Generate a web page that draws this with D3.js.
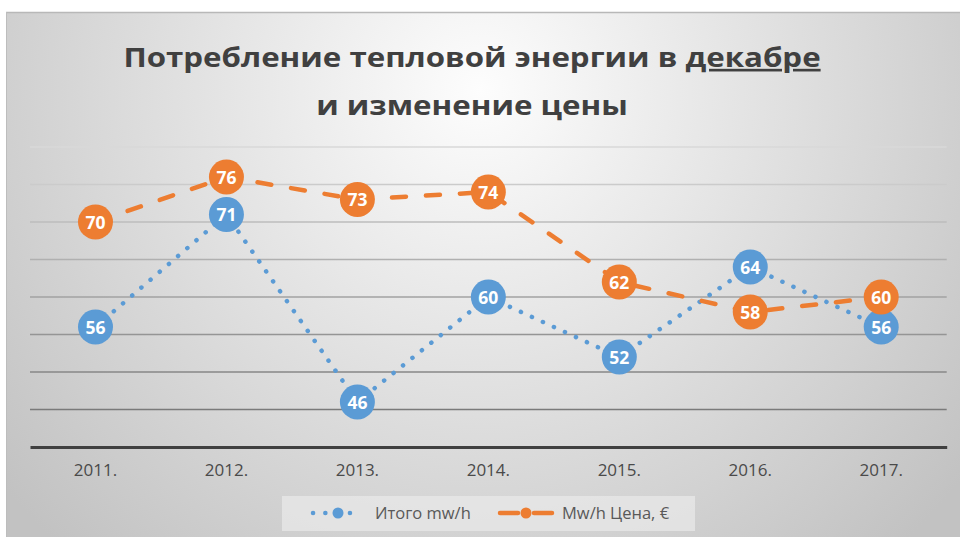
<!DOCTYPE html>
<html>
<head>
<meta charset="utf-8">
<script src="https://cdn.jsdelivr.net/npm/d3@7"></script>
<style>
  body { margin: 0; background: #fff; }
  svg { display: block; }
  text { font-family: "Open Sans", sans-serif; }
</style>
</head>
<body>
<svg id="chart" width="960" height="537"></svg>
<script>
var years = ["2011.", "2012.", "2013.", "2014.", "2015.", "2016.", "2017."];
var totalMwh = [56, 71, 46, 60, 52, 64, 56];
var priceMwh = [70, 76, 73, 74, 62, 58, 60];
var yTicks = [40, 45, 50, 55, 60, 65, 70, 75, 80];
var seriesNames = ["Итого mw/h", "Mw/h Цена, €"];

var blue = "#5b9bd5", orange = "#ed7d31";

var svg = d3.select("#chart");
var defs = svg.append("defs");

var bg = defs.append("radialGradient")
    .attr("id", "bg")
    .attr("gradientUnits", "userSpaceOnUse")
    .attr("cx", 480).attr("cy", 90).attr("r", 620);
bg.append("stop").attr("offset", "0%").attr("stop-color", "#fdfdfd");
bg.append("stop").attr("offset", "100%").attr("stop-color", "#c2c2c2");

// panel
svg.append("rect")
    .attr("x", 6).attr("y", 12)
    .attr("width", 954).attr("height", 525)
    .attr("fill", "url(#bg)");
svg.append("line")
    .attr("x1", 6).attr("x2", 960).attr("y1", 12.5).attr("y2", 12.5)
    .attr("stroke", "#b8b8b8").attr("stroke-width", 1.5);
svg.append("line")
    .attr("x1", 6.5).attr("x2", 6.5).attr("y1", 12).attr("y2", 537)
    .attr("stroke", "#bdbdbd").attr("stroke-width", 1);

// title (stretched horizontally like the original)
var title = svg.append("text")
    .attr("transform", "translate(472,0) scale(1.18,1)")
    .attr("text-anchor", "middle")
    .attr("fill", "#404040")
    .style("font-size", "26.5px")
    .style("font-weight", "bold");
title.append("tspan").attr("x", 0).attr("y", 67)
    .text("Потребление тепловой энергии в ");
title.append("tspan").text("декабре")
    .style("text-decoration", "underline");
title.append("tspan").attr("x", 0).attr("y", 115)
    .text("и изменение цены");

// scales
var x = d3.scaleBand().domain(years).range([30, 946.7]);
var y = d3.scaleLinear().domain([40, 80]).range([447, 147]);
var cx = function (d, i) { return x(years[i]) + x.bandwidth() / 2; };

var gridColor = d3.scaleLinear().domain([80, 45])
    .range(["#d8d8d8", "#7a7a7a"]);

svg.append("g").selectAll("line")
    .data(yTicks.filter(function (t) { return t > 40; }))
    .enter().append("line")
    .attr("x1", 30).attr("x2", 946.7)
    .attr("y1", function (d) { return y(d); })
    .attr("y2", function (d) { return y(d); })
    .attr("stroke", function (d) { return gridColor(d); })
    .attr("stroke-width", 1.6);

var xAxis = svg.append("g")
    .attr("transform", "translate(0," + y(40) + ")")
    .call(d3.axisBottom(x).tickSize(0).tickPadding(17));
xAxis.select(".domain").attr("stroke", "#404040").attr("stroke-width", 3);
xAxis.selectAll("text")
    .style("font-family", "'Open Sans', sans-serif")
    .style("font-size", "17px")
    .attr("fill", "#4a4a4a");

var line = d3.line()
    .x(cx)
    .y(function (d) { return y(d); });

// series 1
svg.append("path")
    .datum(totalMwh)
    .attr("d", line)
    .attr("fill", "none")
    .attr("stroke", blue)
    .attr("stroke-width", 4.5)
    .attr("stroke-linecap", "round")
    .attr("stroke-dasharray", "0.1 12");
svg.append("g").selectAll("circle")
    .data(totalMwh).enter().append("circle")
    .attr("cx", cx).attr("cy", function (d) { return y(d); })
    .attr("r", 17.5).attr("fill", blue);

// series 2
svg.append("path")
    .datum(priceMwh)
    .attr("d", line)
    .attr("fill", "none")
    .attr("stroke", orange)
    .attr("stroke-width", 4.5)
    .attr("stroke-linecap", "round")
    .attr("stroke-dasharray", "14 20");
svg.append("g").selectAll("circle")
    .data(priceMwh).enter().append("circle")
    .attr("cx", cx).attr("cy", function (d) { return y(d); })
    .attr("r", 17.5).attr("fill", orange);

// labels
[totalMwh, priceMwh].forEach(function (arr) {
    svg.append("g").selectAll("text")
        .data(arr).enter().append("text")
        .attr("x", cx)
        .attr("y", function (d) { return y(d) + 6.5; })
        .attr("text-anchor", "middle")
        .attr("fill", "#fff")
        .style("font-size", "17.5px")
        .style("font-weight", "bold")
        .text(function (d) { return d; });
});

// legend
var legend = svg.append("g");
legend.append("rect")
    .attr("x", 282).attr("y", 496)
    .attr("width", 413).attr("height", 35)
    .attr("fill", "#e8e8e8").attr("opacity", 0.75);

var ly = 513;
var lg1 = legend.append("g");
lg1.append("line")
    .attr("x1", 313).attr("x2", 362).attr("y1", ly).attr("y2", ly)
    .attr("stroke", blue).attr("stroke-width", 4.5)
    .attr("stroke-linecap", "round").attr("stroke-dasharray", "0.1 12.2");
lg1.append("circle").attr("cx", 338).attr("cy", ly).attr("r", 5.5).attr("fill", blue);
lg1.append("text").attr("x", 375).attr("y", ly + 6)
    .attr("fill", "#595959").style("font-size", "16.5px")
    .text(seriesNames[0]);

var lg2 = legend.append("g");
lg2.append("line")
    .attr("x1", 500).attr("x2", 552).attr("y1", ly).attr("y2", ly)
    .attr("stroke", orange).attr("stroke-width", 4.5)
    .attr("stroke-linecap", "round").attr("stroke-dasharray", "18 16");
lg2.append("circle").attr("cx", 526).attr("cy", ly).attr("r", 5.5).attr("fill", orange);
lg2.append("text").attr("x", 562).attr("y", ly + 6)
    .attr("fill", "#595959").style("font-size", "16.5px")
    .text(seriesNames[1]);
</script>
</body>
</html>
